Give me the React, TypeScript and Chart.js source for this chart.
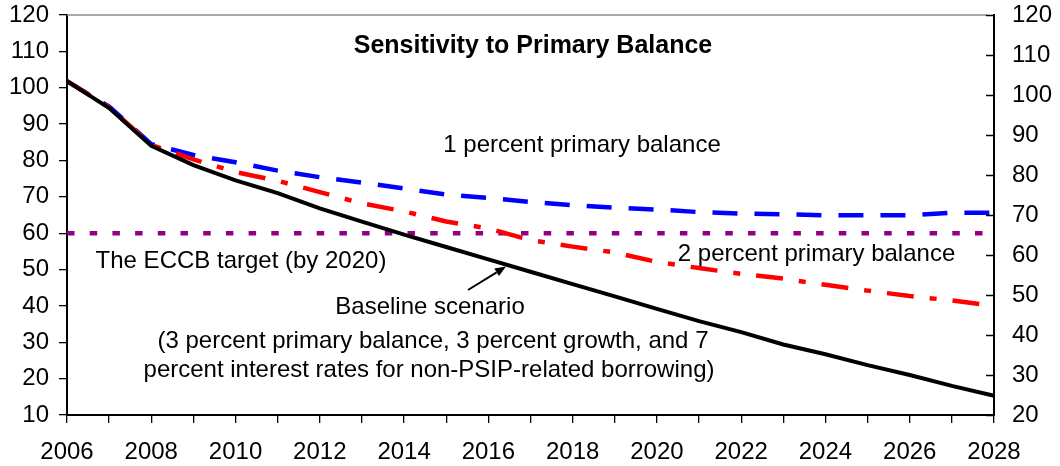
import React, { useEffect, useRef } from 'react';
import { Chart, registerables } from 'chart.js';

Chart.register(...registerables);

// Years on the horizontal axis
const years = [
  '2006', '2007', '2008', '2009', '2010', '2011', '2012', '2013', '2014', '2015', '2016', '2017',
  '2018', '2019', '2020', '2021', '2022', '2023', '2024', '2025', '2026', '2027', '2028',
];

// Baseline scenario: 3% primary balance
const baseline = [
  101.8, 94.4, 84.0, 78.7, 74.5, 71.0, 66.8, 63.2, 59.6, 56.2, 52.8, 49.4,
  46.0, 42.6, 39.2, 35.8, 32.8, 29.4, 26.7, 23.7, 21.0, 18.0, 15.3,
];

// 2 percent primary balance
const twoPercent = [
  101.8, 94.6, 84.3, 80.3, 76.8, 74.4, 71.3, 68.2, 66.0, 63.2, 61.3, 58.1,
  56.3, 54.7, 52.1, 50.4, 48.8, 47.5, 45.8, 44.2, 42.7, 41.5, 40.0,
];

// 1 percent primary balance
const onePercent = [
  101.8, 94.8, 84.5, 81.5, 79.5, 77.2, 75.4, 73.9, 72.3, 70.6, 69.7, 68.6,
  67.7, 67.0, 66.5, 65.8, 65.4, 65.2, 64.9, 64.9, 64.9, 65.6, 65.6,
];

// ECCB debt target (by 2020)
const eccbTarget = [
  60, 60, 60, 60, 60, 60, 60, 60, 60, 60, 60, 60,
  60, 60, 60, 60, 60, 60, 60, 60, 60, 60, 60,
];

// Axis ranges
const leftAxis = { min: 10, max: 120, step: 10 };
const rightAxis = { min: 20, max: 120, step: 10 };

const FONT = '"Liberation Sans", Arial, Helvetica, sans-serif';

const annotations = {
  id: 'annotations',
  afterDraw(chart: any) {
    const { ctx, chartArea: a, scales } = chart;
    ctx.save();

    // thin grey frame along the top of the plot
    ctx.strokeStyle = '#8c8c8c';
    ctx.lineWidth = 1.3;
    ctx.beginPath();
    ctx.moveTo(a.left, a.top);
    ctx.lineTo(a.right - 7, a.top);
    ctx.stroke();

    // inward tick marks on the right-hand axis
    const y2 = scales.y2;
    ctx.strokeStyle = '#000';
    ctx.lineWidth = 1.4;
    ctx.beginPath();
    y2.ticks.forEach((t: any) => {
      const y = Math.round(y2.getPixelForValue(t.value)) + 0.5;
      ctx.moveTo(a.right - 8, y);
      ctx.lineTo(a.right, y);
    });
    ctx.stroke();

    // text labels
    ctx.fillStyle = '#000';
    ctx.textAlign = 'center';
    ctx.textBaseline = 'alphabetic';
    ctx.font = `bold 25px ${FONT}`;
    ctx.fillText('Sensitivity to Primary Balance', 533, 53);

    ctx.font = `24px ${FONT}`;
    ctx.fillText('1 percent primary balance', 582, 151.5);
    ctx.fillText('The ECCB target (by 2020)', 241, 268);
    ctx.fillText('2 percent primary balance', 816.5, 261);
    ctx.fillText('Baseline scenario', 430, 314);
    ctx.fillText('(3 percent primary balance, 3 percent growth, and 7', 433, 347.5);
    ctx.fillText('percent interest rates for non-PSIP-related borrowing)', 429, 376.5);

    // arrow pointing at the baseline line
    const x0 = 468, yA = 290, x1 = 506, yB = 266.5;
    const ang = Math.atan2(yB - yA, x1 - x0);
    const head = 11, half = 4.5;
    const bx = x1 - head * Math.cos(ang);
    const by = yB - head * Math.sin(ang);
    ctx.strokeStyle = '#000';
    ctx.lineWidth = 2;
    ctx.beginPath();
    ctx.moveTo(x0, yA);
    ctx.lineTo(bx, by);
    ctx.stroke();
    ctx.beginPath();
    ctx.moveTo(x1, yB);
    ctx.lineTo(bx + half * Math.sin(ang), by - half * Math.cos(ang));
    ctx.lineTo(bx - half * Math.sin(ang), by + half * Math.cos(ang));
    ctx.closePath();
    ctx.fill();

    ctx.restore();
  },
};

export default function App() {
  const canvasRef = useRef<HTMLCanvasElement | null>(null);

  useEffect(() => {
    const canvas = canvasRef.current;
    if (!canvas) return;

    const tickFont = { family: FONT, size: 24 };

    const chart = new Chart(canvas, {
      type: 'line',
      data: {
        labels: years,
        datasets: [
          {
            label: 'Baseline scenario',
            data: baseline,
            borderColor: '#000000',
            borderWidth: 4,
            pointRadius: 0,
            tension: 0,
            yAxisID: 'y',
          },
          {
            label: '2 percent primary balance',
            data: twoPercent,
            borderColor: '#ff0000',
            borderWidth: 4.5,
            borderDash: [27, 16, 7, 16],
            pointRadius: 0,
            tension: 0,
            yAxisID: 'y',
          },
          {
            label: '1 percent primary balance',
            data: onePercent,
            borderColor: '#0000ff',
            borderWidth: 4.5,
            borderDash: [25, 17],
            pointRadius: 0,
            tension: 0,
            yAxisID: 'y',
          },
          {
            label: 'The ECCB target (by 2020)',
            data: eccbTarget,
            borderColor: '#910082',
            borderWidth: 4.5,
            borderDash: [7.5, 15.2],
            pointRadius: 0,
            tension: 0,
            yAxisID: 'y',
          },
        ],
      },
      options: {
        responsive: false,
        animation: false,
        devicePixelRatio: 1,
        layout: { padding: { top: 15, left: 0, right: 0, bottom: 0 } },
        plugins: {
          legend: { display: false },
          tooltip: { enabled: false },
          title: { display: false },
        },
        scales: {
          x: {
            type: 'category',
            offset: false,
            grid: {
              offset: false,
              drawOnChartArea: false,
              drawTicks: true,
              tickLength: 8,
              color: '#000',
              lineWidth: 1.3,
            },
            border: { display: true, color: '#000', width: 2 },
            ticks: {
              autoSkip: false,
              maxRotation: 0,
              minRotation: 0,
              padding: 15,
              color: '#000',
              font: tickFont,
              callback: (_v: any, i: number) => (i % 2 === 0 ? years[i] : ''),
            },
            afterFit: (s: any) => {
              s.height = 51;
              s.paddingLeft = 0;
              s.paddingRight = 0;
            },
          },
          y: {
            type: 'linear',
            position: 'left',
            min: leftAxis.min,
            max: leftAxis.max,
            grid: {
              drawOnChartArea: false,
              drawTicks: true,
              tickLength: 8,
              color: '#000',
              lineWidth: 1.3,
            },
            border: { display: true, color: '#000', width: 2 },
            ticks: {
              stepSize: leftAxis.step,
              padding: 10,
              color: '#000',
              font: tickFont,
            },
            afterFit: (s: any) => {
              s.width = 67;
              s.paddingTop = 0;
              s.paddingBottom = 0;
            },
          },
          y2: {
            type: 'linear',
            position: 'right',
            display: true,
            min: rightAxis.min,
            max: rightAxis.max,
            grid: {
              drawOnChartArea: false,
              drawTicks: false,
            },
            border: { display: true, color: '#000', width: 2 },
            ticks: {
              stepSize: rightAxis.step,
              padding: 18,
              color: '#000',
              font: tickFont,
            },
            afterFit: (s: any) => {
              s.width = 66;
              s.paddingTop = 0;
              s.paddingBottom = 0;
            },
          },
        },
      },
      plugins: [annotations],
    });

    return () => chart.destroy();
  }, []);

  return (
    <div
      style={{
        position: 'fixed',
        left: 0,
        top: 0,
        width: 1060,
        height: 466,
        background: '#fff',
      }}
    >
      <canvas ref={canvasRef} width={1060} height={466} style={{ display: 'block' }} />
    </div>
  );
}
